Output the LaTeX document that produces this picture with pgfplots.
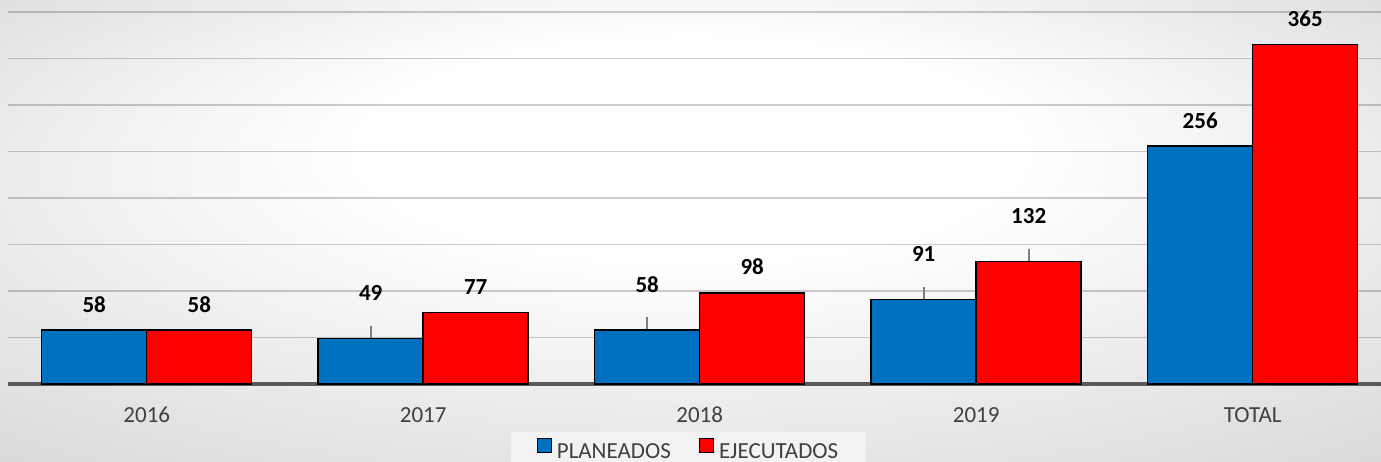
\documentclass[border=0pt]{standalone}
\usepackage{pgfplots}
\pgfplotsset{compat=1.18}
\usepackage{fontspec}
\setmainfont{Carlito}
\definecolor{cblue}{RGB}{0,112,192}
\definecolor{cred}{RGB}{255,0,0}
\definecolor{txtgray}{RGB}{64,64,64}
\definecolor{axisgray}{RGB}{89,89,89}
\definecolor{ldrgray}{RGB}{128,128,128}
\pgfdeclareradialshading{bgshade}{\pgfpoint{0bp}{12bp}}{color(0bp)=(white); color(12bp)=(white); color(46bp)=(black!20)}
\newcommand{\lab}[1]{\vbox{\hbox to 3em{\hss\textbf{#1}\hss}\kern17pt}}
\newcommand{\ldr}[1]{\vbox{\hbox to 3em{\hss\textbf{#1}\hss}\kern10pt\hbox to 3em{\hss\textcolor{ldrgray}{\vrule width 1.6pt height 12pt}\hss}}}
\begin{document}
\begin{tikzpicture}
\useasboundingbox (0,0) rectangle (1381pt,462pt);
\shade[shading=bgshade] (0,0) rectangle (1381pt,462pt);
\begin{axis}[
  scale only axis,
  width=1372.5pt, height=384pt,
  at={(8.5pt,78pt)}, anchor=south west,
  xmin=-0.5, xmax=4.464,
  ymin=0, ymax=413,
  clip=false,
  ybar=0pt, bar width=105pt,
  axis line style={draw=none},
  major tick length=0pt,
  xtick={0,1,2,3,4},
  xticklabels={2016,2017,2018,2019,TOTAL},
  xticklabel style={anchor=base, yshift=-39pt, text=txtgray, font=\fontsize{23}{27}\selectfont},
  ytick={50,100,...,400},
  yticklabels={},
  ymajorgrids,
  major grid style={draw=black, draw opacity=0.2, line width=1.4pt},
  extra y ticks={0},
  extra y tick labels={},
  extra y tick style={major grid style={draw=axisgray, draw opacity=1, line width=3.2pt}},
  point meta=explicit symbolic,
  nodes near coords={\pgfplotspointmeta},
  every node near coord/.append style={anchor=south, inner sep=0pt, text=black, font=\fontsize{23}{27}\selectfont},
  legend columns=2,
  legend style={at={(0.4954,-0.172)}, anchor=center, draw=none, fill=white!95!black,
    font=\fontsize{23}{27}\selectfont, text=txtgray, inner xsep=26pt, inner ysep=6pt,
    /tikz/every odd column/.append style={column sep=3pt},
    /tikz/every even column/.append style={column sep=26pt}},
  legend image code/.code={\draw[#1, draw=black, line width=1.2pt] (0pt,0pt) rectangle (14pt,14pt);},
]
\addplot[fill=cblue, draw=black, line width=1.5pt] coordinates {
  (0,58) [\lab{58}]
  (1,49) [\ldr{49}]
  (2,58) [\ldr{58}]
  (3,91) [\ldr{91}]
  (4,256) [\lab{256}]
};
\addlegendentry{PLANEADOS}
\addplot[fill=cred, draw=black, line width=1.5pt] coordinates {
  (0,58) [\lab{58}]
  (1,77) [\lab{77}]
  (2,98) [\lab{98}]
  (3,132) [\ldr{132}]
  (4,365) [\lab{365}]
};
\addlegendentry{EJECUTADOS}
\end{axis}
\end{tikzpicture}
\end{document}
